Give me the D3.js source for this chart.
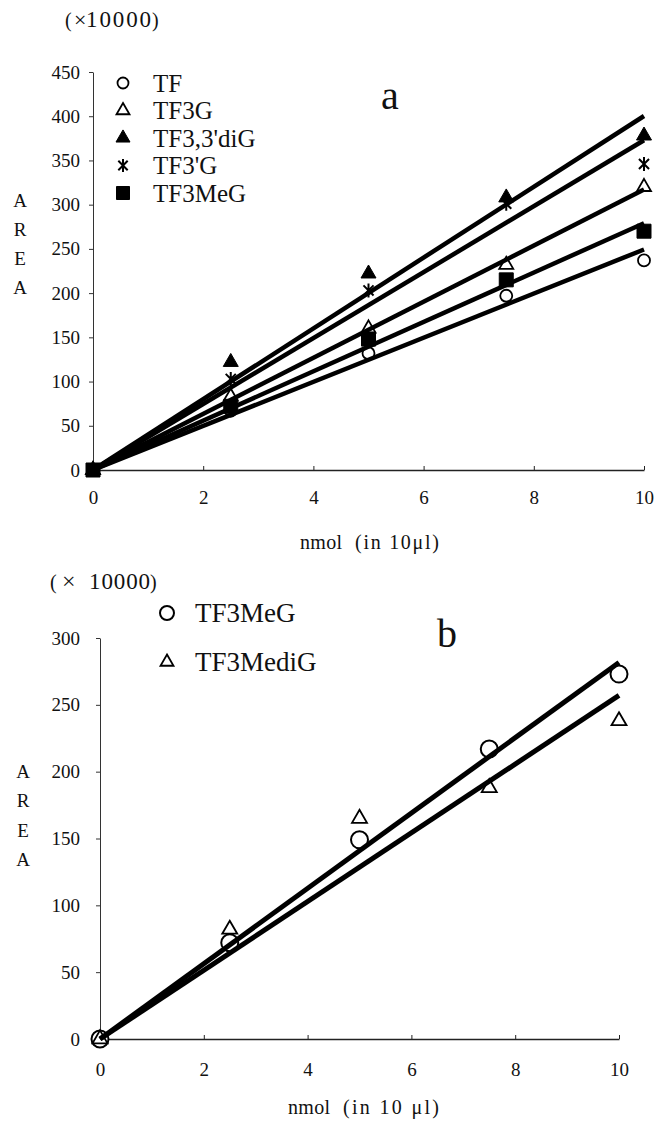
<!DOCTYPE html>
<html>
<head>
<meta charset="utf-8">
<script src="https://cdn.jsdelivr.net/npm/d3@7"></script>
<style>
  html, body { margin: 0; padding: 0; background: #fff; }
  svg text { font-family: "Liberation Serif", "Times New Roman", serif; fill: #111; }
</style>
</head>
<body>
<svg id="chart" width="655" height="1123" font-family="Liberation Serif, serif"></svg>
<script>
// ---------- DATA ----------
const xValues = [0, 2.5, 5, 7.5, 10];

// Panel a
const seriesA = ["TF", "TF3G", "TF3,3'diG", "TF3'G", "TF3MeG"];
const valuesTF      = [0, 67, 132, 197, 237];
const valuesTF3G    = [0, 83, 160, 232, 320];
const valuesTF33diG = [0, 122, 222, 308, 378];
const valuesTF3pG   = [0, 103, 203, 301, 346];
const valuesTF3MeGa = [0, 72, 148, 215, 270];
const yTicksA = [0, 50, 100, 150, 200, 250, 300, 350, 400, 450];

// Panel b
const seriesB = ["TF3MeG", "TF3MediG"];
const valuesTF3MeGb  = [0, 72, 149, 217, 273];
const valuesTF3MediG = [0, 82, 165, 188, 238];
const yTicksB = [0, 50, 100, 150, 200, 250, 300];

const xTicks = [0, 2, 4, 6, 8, 10];

// ---------- HELPERS ----------
const svg = d3.select("#chart");

// regression through the origin (slope only)
function slopeThroughOrigin(xs, ys) {
  const sxy = d3.sum(xs, (x, i) => x * ys[i]);
  const sxx = d3.sum(xs, x => x * x);
  return sxy / sxx;
}

const asteriskSymbol = {
  draw(ctx, size) {
    const r = Math.sqrt(size) / 2;
    ctx.moveTo(0, -r); ctx.lineTo(0, r);
    ctx.moveTo(-0.72 * r, -0.72 * r); ctx.lineTo(0.72 * r, 0.72 * r);
    ctx.moveTo(-0.72 * r, 0.72 * r); ctx.lineTo(0.72 * r, -0.72 * r);
  }
};

function triSize(w) { const y = w / (2 * Math.sqrt(3)); return 3 * Math.sqrt(3) * y * y; }

const markerStyles = {
  circle:   (s) => ({ type: d3.symbolCircle,   size: Math.PI * (s / 2) * (s / 2), fill: "#fff", stroke: "#000" }),
  triOpen:  (s) => ({ type: d3.symbolTriangle, size: triSize(s), fill: "#fff", stroke: "#000" }),
  triFill:  (s) => ({ type: d3.symbolTriangle, size: triSize(s), fill: "#000", stroke: "#000" }),
  asterisk: (s) => ({ type: asteriskSymbol,    size: s * s, fill: "none", stroke: "#000" }),
  square:   (s) => ({ type: d3.symbolSquare,   size: s * s, fill: "#000", stroke: "#000" })
};

function drawMarker(g, kind, s, x, y, sw) {
  const st = markerStyles[kind](s);
  g.append("path")
    .attr("d", d3.symbol().type(st.type).size(st.size)())
    .attr("transform", `translate(${x},${y})`)
    .attr("fill", st.fill)
    .attr("stroke", st.stroke)
    .attr("stroke-width", sw);
}

// text made of pieces placed at given x positions (optional forced widths / sizes)
function pieceText(g, y, size, pieces) {
  const t = g.append("text").attr("y", y).attr("dy", "0.35em").style("font-size", size + "px");
  pieces.forEach(p => {
    const ts = t.append("tspan").attr("x", p.x).text(p.t);
    if (p.fs) ts.style("font-size", p.fs + "px");
    if (p.len) ts.attr("textLength", p.len).attr("lengthAdjust", "spacing");
  });
}

function drawPanel(cfg) {
  const g = svg.append("g");
  const x = d3.scaleLinear().domain([0, 10]).range(cfg.xRange);
  const y = d3.scaleLinear().domain([0, cfg.yMax]).range(cfg.yRange);

  // y axis
  const ya = g.append("g")
    .attr("transform", `translate(${cfg.xRange[0]},0)`)
    .call(d3.axisLeft(y).tickValues(cfg.yTicks).tickSizeInner(4).tickSizeOuter(0).tickPadding(cfg.yPad));
  ya.attr("font-family", null);
  ya.select(".domain").attr("stroke", "#333").attr("stroke-width", 1);
  ya.selectAll(".tick line").attr("stroke", "#333");
  ya.selectAll("text").style("font-size", "19px").attr("fill", "#111");

  // x axis
  const xa = g.append("g")
    .attr("transform", `translate(0,${cfg.yRange[0]})`)
    .call(d3.axisBottom(x).tickValues(xTicks).tickSizeInner(-4).tickSizeOuter(0).tickPadding(cfg.xPad));
  xa.attr("font-family", null);
  xa.select(".domain").attr("stroke", "#222").attr("stroke-width", 1.4);
  xa.selectAll(".tick line").attr("stroke", "#222");
  xa.selectAll("text").style("font-size", "19px").attr("fill", "#111");

  // markers (below lines)
  const mg = g.append("g");
  cfg.series.forEach(s => {
    s.values.forEach((v, i) => drawMarker(mg, s.kind, s.size, x(xValues[i]), y(v), s.sw));
  });

  // regression lines
  const line = d3.line().x(d => x(d[0])).y(d => y(d[1]));
  cfg.series.forEach(s => {
    const k = slopeThroughOrigin(xValues, s.values);
    g.append("path")
      .attr("d", line([[0, 0], [10, 10 * k]]))
      .attr("fill", "none")
      .attr("stroke", "#000")
      .attr("stroke-width", cfg.lineWidth);
  });

  // legend
  cfg.series.forEach((s, i) => {
    const ly = cfg.legend.y0 + i * cfg.legend.dy;
    drawMarker(g, s.kind, s.legendSize, cfg.legend.mx, ly, s.sw);
    g.append("text")
      .attr("x", cfg.legend.tx).attr("y", ly)
      .attr("dy", "0.35em")
      .style("font-size", cfg.legend.font + "px")
      .text(s.name);
  });

  // (×10000)
  pieceText(g, cfg.unit.y, 20, cfg.unit.pieces);

  // AREA
  ["A", "R", "E", "A"].forEach((c, i) => {
    g.append("text")
      .attr("x", cfg.area.x).attr("y", cfg.area.y0 + i * cfg.area.dy)
      .attr("dy", "0.35em").attr("text-anchor", "middle")
      .style("font-size", "19px")
      .text(c);
  });

  // panel letter
  g.append("text")
    .attr("x", cfg.letter.x).attr("y", cfg.letter.y).attr("dy", "0.35em")
    .attr("text-anchor", "middle")
    .style("font-size", cfg.letter.font + "px")
    .text(cfg.letter.t);

  // x label
  pieceText(g, cfg.xlabel.y, 20, cfg.xlabel.pieces);
}

// ---------- PANEL a ----------
drawPanel({
  xRange: [93, 644], yRange: [470, 72], yMax: 450, yTicks: yTicksA,
  yPad: 9, xPad: 21, lineWidth: 4.5,
  series: [
    { name: seriesA[0], values: valuesTF,      kind: "circle",   size: 12, legendSize: 11, sw: 1.8 },
    { name: seriesA[1], values: valuesTF3G,    kind: "triOpen",  size: 14, legendSize: 13, sw: 1.8 },
    { name: seriesA[2], values: valuesTF33diG, kind: "triFill",  size: 15, legendSize: 14, sw: 1 },
    { name: seriesA[3], values: valuesTF3pG,   kind: "asterisk", size: 14, legendSize: 13, sw: 2 },
    { name: seriesA[4], values: valuesTF3MeGa, kind: "square",   size: 14, legendSize: 13, sw: 1 }
  ],
  legend: { mx: 123, tx: 153, y0: 83, dy: 27.5, font: 25 },
  unit: { y: 20, pieces: [ { x: 65, t: "(" }, { x: 74, t: "\u00d7", fs: 22 }, { x: 86, t: "10000", fs: 23, len: 65 }, { x: 152, t: ")" } ] },
  area: { x: 20, y0: 200, dy: 29 },
  letter: { x: 390, y: 95, font: 40, t: "a" },
  xlabel: { y: 542, pieces: [ { x: 300, t: "nmol", len: 42 }, { x: 355, t: "(in 10\u03bcl)", len: 84 } ] }
});

// ---------- PANEL b ----------
drawPanel({
  xRange: [100, 619], yRange: [1039, 638], yMax: 300, yTicks: yTicksB,
  yPad: 16, xPad: 24, lineWidth: 5,
  series: [
    { name: seriesB[0], values: valuesTF3MeGb,  kind: "circle",  size: 17, legendSize: 14, sw: 2 },
    { name: seriesB[1], values: valuesTF3MediG, kind: "triOpen", size: 15, legendSize: 13, sw: 1.8 }
  ],
  legend: { mx: 167, tx: 195, y0: 613, dy: 49, font: 27 },
  unit: { y: 582, pieces: [ { x: 50, t: "(" }, { x: 62, t: "\u00d7", fs: 24 }, { x: 89, t: "10000", fs: 23, len: 61 }, { x: 150, t: ")" } ] },
  area: { x: 23, y0: 771, dy: 29.5 },
  letter: { x: 447, y: 633, font: 40, t: "b" },
  xlabel: { y: 1107, pieces: [ { x: 288, t: "nmol", len: 42 }, { x: 343, t: "(in 10 \u03bcl)", len: 96 } ] }
});
</script>
</body>
</html>
